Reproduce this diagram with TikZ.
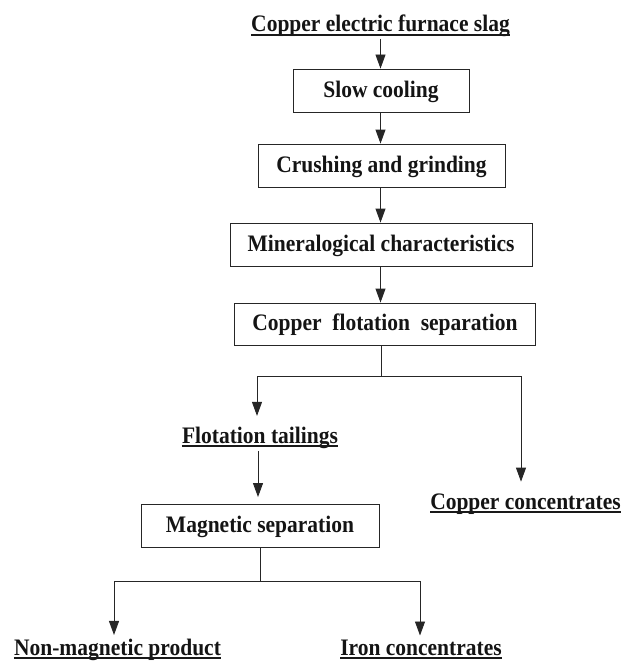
\documentclass[tikz,border=0pt]{standalone}
\usepackage{fontspec}
\usepackage{graphicx}
\setmainfont{Liberation Serif}
\usetikzlibrary{arrows.meta}
\newcommand{\vsc}[1]{\scalebox{1}[1.1]{#1}}
\begin{document}
\begin{tikzpicture}[x=1pt,y=-1pt,
  txt/.style={font=\fontsize{21.5}{24}\selectfont\bfseries, text=black!92},
  stepbox/.style={txt, draw=black!85, line width=0.9pt, inner sep=0pt, anchor=center, text height=16pt, text depth=3pt},
  lbl/.style={txt, inner sep=0pt, anchor=base},
  conn/.style={draw=black!85, line width=0.9pt},
  arr/.style={conn, -{Triangle[length=14pt,width=10pt]}},
  ul/.style={draw=black!90, line width=2pt}]
\useasboundingbox (0,0) rectangle (624,661);
% labels
\node[lbl] (title) at (380.5,32) {\vsc{Copper electric furnace slag}};
\node[lbl] (tail) at (260,443) {\vsc{Flotation tailings}};
\node[lbl] (cuconc) at (525.5,509) {\vsc{Copper concentrates}};
\node[lbl] (nonmag) at (117.5,655) {\vsc{Non-magnetic product}};
\node[lbl] (iron) at (421,655) {\vsc{Iron concentrates}};
% boxes
\node[stepbox, minimum width=176pt, minimum height=43pt] (slow) at (381,90.5) {\vsc{Slow cooling}};
\node[stepbox, minimum width=247pt, minimum height=43pt] (crush) at (381.5,165.5) {\vsc{Crushing and grinding}};
\node[stepbox, minimum width=302pt, minimum height=43pt] (mineral) at (381,244.5) {\vsc{Mineralogical characteristics}};
\node[stepbox, minimum width=301pt, minimum height=42pt] (flot) at (385,324) {\vsc{Copper\hspace{0.5em}flotation\hspace{0.5em}separation}};
\node[stepbox, minimum width=238pt, minimum height=43pt] (mag) at (260,525.5) {\vsc{Magnetic separation}};
% underlines
\foreach \n in {title,tail,cuconc,nonmag,iron}{
  \draw[ul] ([yshift=-3pt]\n.base west) -- ([yshift=-3pt]\n.base east);
}
% main chain
\draw[arr] ([yshift=-7pt]title.base) -- (title.base |- slow.north);
\draw[arr] (slow.south -| title.base) -- (crush.north -| title.base);
\draw[arr] (crush.south -| title.base) -- (mineral.north -| title.base);
\draw[arr] (mineral.south -| title.base) -- (flot.north -| title.base);
% flotation branch
\coordinate (b1) at (381,376);
\draw[conn] (flot.south -| b1) -- (b1);
\draw[arr, shorten >=10.5pt] (b1) -| ([xshift=-3pt]tail.north);
\draw[arr, shorten >=11.5pt] (b1) -| ([xshift=-4.5pt]cuconc.north);
\draw[arr, shorten <=2.5pt, shorten >=6.5pt] ([xshift=-2pt]tail.south) -- ([xshift=-2pt]tail.south |- mag.north);
% magnetic branch
\coordinate (b2) at (260,581);
\draw[conn] (mag.south -| b2) -- (b2);
\draw[arr, shorten >=3.4pt] (b2) -| ([xshift=-3.5pt]nonmag.north);
\draw[arr, shorten >=3.8pt] (b2) -| ([xshift=-1pt]iron.north);
\end{tikzpicture}
\end{document}
